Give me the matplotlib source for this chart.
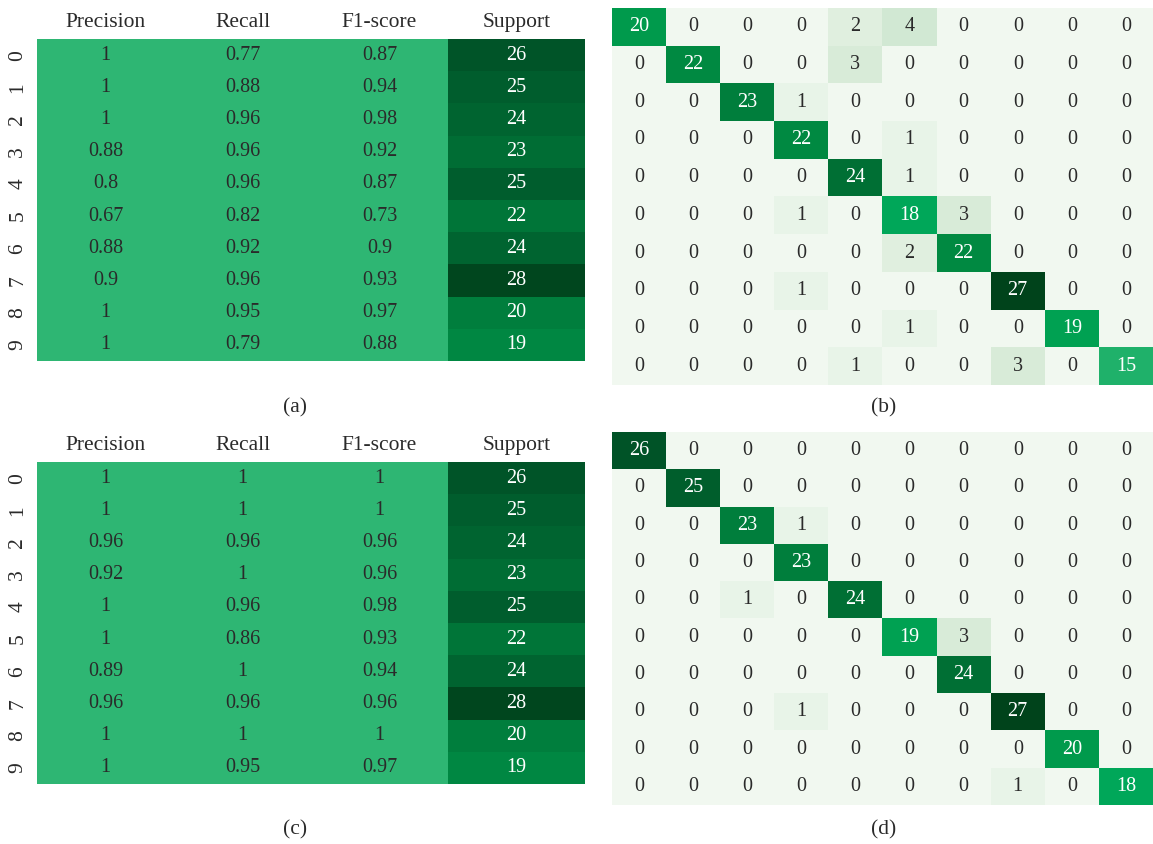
import numpy as np
import matplotlib
matplotlib.use("Agg")
import matplotlib.pyplot as plt
from matplotlib.colors import LinearSegmentedColormap, Normalize

plt.rcParams['font.family'] = ['Liberation Serif', 'DejaVu Serif']

# ---- classification reports ----
classes = [str(i) for i in range(10)]
metric_names = ["Precision", "Recall", "F1-score", "Support"]

a_precision = [1, 1, 1, 0.88, 0.8, 0.67, 0.88, 0.9, 1, 1]
a_recall = [0.77, 0.88, 0.96, 0.96, 0.96, 0.82, 0.92, 0.96, 0.95, 0.79]
a_f1 = [0.87, 0.94, 0.98, 0.92, 0.87, 0.73, 0.9, 0.93, 0.97, 0.88]

c_precision = [1, 1, 0.96, 0.92, 1, 1, 0.89, 0.96, 1, 1]
c_recall = [1, 1, 0.96, 1, 0.96, 0.86, 1, 0.96, 1, 0.95]
c_f1 = [1, 1, 0.96, 0.96, 0.98, 0.93, 0.94, 0.96, 1, 0.97]

support = [26, 25, 24, 23, 25, 22, 24, 28, 20, 19]

# ---- confusion matrices ----
cm_b = [
    [20, 0, 0, 0, 2, 4, 0, 0, 0, 0],
    [0, 22, 0, 0, 3, 0, 0, 0, 0, 0],
    [0, 0, 23, 1, 0, 0, 0, 0, 0, 0],
    [0, 0, 0, 22, 0, 1, 0, 0, 0, 0],
    [0, 0, 0, 0, 24, 1, 0, 0, 0, 0],
    [0, 0, 0, 1, 0, 18, 3, 0, 0, 0],
    [0, 0, 0, 0, 0, 2, 22, 0, 0, 0],
    [0, 0, 0, 1, 0, 0, 0, 27, 0, 0],
    [0, 0, 0, 0, 0, 1, 0, 0, 19, 0],
    [0, 0, 0, 0, 1, 0, 0, 3, 0, 15],
]
cm_d = [
    [26, 0, 0, 0, 0, 0, 0, 0, 0, 0],
    [0, 25, 0, 0, 0, 0, 0, 0, 0, 0],
    [0, 0, 23, 1, 0, 0, 0, 0, 0, 0],
    [0, 0, 0, 23, 0, 0, 0, 0, 0, 0],
    [0, 0, 1, 0, 24, 0, 0, 0, 0, 0],
    [0, 0, 0, 0, 0, 19, 3, 0, 0, 0],
    [0, 0, 0, 0, 0, 0, 24, 0, 0, 0],
    [0, 0, 0, 1, 0, 0, 0, 27, 0, 0],
    [0, 0, 0, 0, 0, 0, 0, 0, 20, 0],
    [0, 0, 0, 0, 0, 0, 0, 1, 0, 18],
]

# ---- colour maps ----
CM_MAX = 28.0
cm_anchors = [
    (0, "#f1f8f0"), (1, "#e8f4e8"), (2, "#e0efdf"), (3, "#d8ebd8"),
    (4, "#d1e8d3"), (15, "#20b26b"), (18, "#00a85a"), (19, "#00a152"),
    (20, "#009a4c"), (22, "#008a42"), (23, "#007f3d"), (24, "#007035"),
    (25, "#005f2d"), (26, "#005428"), (27, "#00441c"), (28, "#003f1a"),
]
conf_cmap = LinearSegmentedColormap.from_list(
    "conf", [(v / CM_MAX, c) for v, c in cm_anchors])

sup_anchors = [
    (19, "#008742"), (20, "#007e3d"), (22, "#007538"), (23, "#006d34"),
    (24, "#006531"), (25, "#005d2d"), (26, "#005529"), (28, "#00461e"),
]
sup_lo, sup_hi = 19.0, 28.0
sup_cmap = LinearSegmentedColormap.from_list(
    "sup", [((v - sup_lo) / (sup_hi - sup_lo), c) for v, c in sup_anchors])
METRIC_COLOR = "#2eb673"
DARK_TEXT = "#2a2a2a"

CELL_FS = 14.5
LABEL_FS = 15.5

W, H = 1153, 844
fig = plt.figure(figsize=(W / 100, H / 100), dpi=100)


def add_ax(x0, y0, x1, y1):
    return fig.add_axes([x0 / W, 1 - y1 / H, (x1 - x0) / W, (y1 - y0) / H])


def fmt(v):
    return f"{v:g}"


def report(ax, prec, rec, f1, sup):
    data = np.column_stack([prec, rec, f1, sup]).astype(float)
    n = data.shape[0]
    rgb = np.zeros((n, 4, 4))
    rgb[:, :3] = matplotlib.colors.to_rgba(METRIC_COLOR)
    rgb[:, 3] = sup_cmap(Normalize(sup_lo, sup_hi)(data[:, 3]))
    ax.imshow(rgb, aspect="auto", interpolation="nearest",
              extent=(-0.5, 3.5, n - 0.5, -0.5))
    for i in range(n):
        for j in range(4):
            ax.text(j, i, fmt(data[i, j]), ha="center", va="center",
                    fontsize=CELL_FS, color="white" if j == 3 else DARK_TEXT)
    ax.set_xticks(range(4))
    ax.set_xticklabels(metric_names, fontsize=LABEL_FS, color=DARK_TEXT)
    ax.xaxis.tick_top()
    ax.set_yticks(range(n))
    ax.set_yticklabels(classes, fontsize=LABEL_FS, rotation=90, va="center",
                       color=DARK_TEXT)
    ax.tick_params(axis="x", length=0, pad=5)
    ax.tick_params(axis="y", length=0, pad=7)
    for s in ax.spines.values():
        s.set_visible(False)


def confusion(ax, cm):
    cm = np.array(cm, dtype=float)
    n = cm.shape[0]
    ax.imshow(cm, cmap=conf_cmap, vmin=0, vmax=CM_MAX, aspect="auto",
              interpolation="nearest", extent=(-0.5, n - 0.5, n - 0.5, -0.5))
    for i in range(n):
        for j in range(n):
            v = cm[i, j]
            ax.text(j, i, fmt(v), ha="center", va="center", fontsize=CELL_FS,
                    color="white" if v >= 10 else DARK_TEXT)
    ax.set_xticks([])
    ax.set_yticks([])
    for s in ax.spines.values():
        s.set_visible(False)


ax_a = add_ax(37, 39, 585, 361)
report(ax_a, a_precision, a_recall, a_f1, support)
ax_b = add_ax(612, 8, 1153, 385)
confusion(ax_b, cm_b)
ax_c = add_ax(37, 462, 585, 784)
report(ax_c, c_precision, c_recall, c_f1, support)
ax_d = add_ax(612, 432, 1153, 805)
confusion(ax_d, cm_d)

for label, x, y in [("(a)", 295, 408), ("(b)", 884, 408),
                    ("(c)", 295, 830), ("(d)", 884, 830)]:
    fig.text(x / W, 1 - y / H, label, ha="center", va="center",
             fontsize=LABEL_FS, color=DARK_TEXT)

fig.savefig("out.png", dpi=100)
